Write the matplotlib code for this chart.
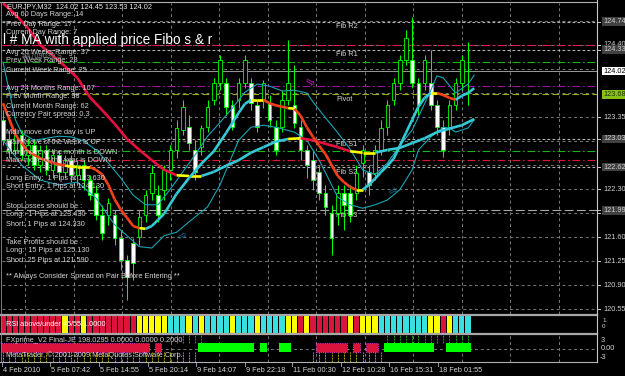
import matplotlib.pyplot as plt
from matplotlib.patches import Rectangle
from matplotlib.transforms import blended_transform_factory

# ---------------- data (EURJPY, M32) ----------------
opens = [123.31, 123.01, 122.87, 123.09, 122.80, 122.94, 122.65, 122.87, 122.58, 122.80,
         122.55, 122.72, 122.50, 122.65, 122.43, 122.24, 121.92, 121.92, 121.92, 121.59,
         121.27, 121.51, 121.60, 121.92, 122.24, 122.21, 122.29, 122.58, 122.87, 123.16,
         123.20, 122.87, 122.91, 123.20, 123.60, 123.85, 123.85, 123.52, 123.60, 123.85,
         123.85, 123.52, 123.60, 123.55, 123.20, 123.20, 123.60, 123.52, 123.20, 122.87,
         122.72, 122.55, 122.24, 121.95, 121.95, 122.24, 122.24, 122.24, 122.68, 122.55,
         122.53, 122.87, 123.20, 123.60, 123.85, 124.18, 124.18, 123.85, 123.85, 123.85,
         123.52, 123.20, 123.20, 123.52, 123.85, 124.02]
highs = [123.45, 123.16, 123.19, 123.16, 123.04, 123.01, 122.94, 122.94, 122.87, 122.87,
         122.80, 122.80, 122.72, 122.72, 122.50, 122.36, 122.07, 122.17, 122.00, 121.70,
         121.34, 121.59, 122.00, 122.29, 122.65, 122.36, 122.65, 122.94, 123.31, 123.60,
         123.38, 123.01, 123.23, 123.60, 123.92, 124.25, 123.92, 123.60, 123.92, 124.25,
         123.92, 123.60, 123.89, 123.67, 123.31, 123.74, 124.47, 124.11, 123.31, 122.94,
         122.87, 122.65, 122.36, 122.07, 122.36, 122.36, 122.36, 122.65, 122.94, 122.65,
         122.94, 123.31, 123.60, 123.92, 124.25, 124.62, 124.81, 123.92, 124.25, 124.33,
         123.60, 123.31, 123.60, 123.92, 124.25, 124.45]
lows = [122.94, 122.75, 122.80, 122.72, 122.65, 122.58, 122.55, 122.50, 122.46, 122.43,
        122.46, 122.40, 122.36, 122.29, 122.14, 121.85, 121.56, 121.78, 121.48, 121.12,
        120.68, 120.97, 121.48, 121.82, 122.14, 121.82, 122.14, 122.43, 122.75, 123.09,
        122.87, 122.43, 122.80, 123.13, 123.52, 123.74, 123.38, 123.16, 123.48, 123.77,
        123.45, 123.13, 123.48, 123.20, 122.80, 123.13, 123.52, 123.19, 122.72, 122.46,
        122.29, 122.14, 121.92, 121.34, 121.78, 121.70, 121.82, 122.14, 122.48, 122.21,
        122.43, 122.80, 123.09, 123.52, 123.74, 124.11, 123.77, 123.38, 123.74, 123.45,
        123.09, 122.77, 123.09, 123.45, 123.74, 123.53]
closes = [123.01, 122.87, 123.09, 122.80, 122.94, 122.65, 122.87, 122.58, 122.80, 122.55,
          122.72, 122.50, 122.65, 122.43, 122.21, 121.92, 121.66, 122.10, 121.59, 121.27,
          121.02, 121.22, 121.89, 122.21, 122.53, 121.92, 122.58, 122.87, 123.19, 123.50,
          122.97, 122.55, 123.19, 123.50, 123.85, 124.18, 123.50, 123.20, 123.85, 124.18,
          123.55, 123.20, 123.85, 123.31, 122.87, 123.60, 123.85, 123.26, 122.87, 122.65,
          122.43, 122.24, 122.04, 121.59, 122.24, 122.07, 121.92, 122.53, 122.87, 122.36,
          122.87, 123.19, 123.52, 123.85, 124.18, 124.50, 123.85, 123.52, 124.18, 123.52,
          123.20, 122.87, 123.52, 123.85, 124.18, 124.02]

slow_bar = [0, 2, 4, 6, 8, 10, 12, 14, 16, 18, 20, 22, 24, 26, 28, 30, 32, 34, 36, 38,
            40, 42, 44, 46, 48, 50, 52, 54, 56, 58, 60, 62, 64, 66, 68, 70, 72, 74, 76]
slow_ma = [125.01, 124.84, 124.65, 124.40, 124.25, 124.09, 123.92, 123.64, 123.45, 123.25,
           123.03, 122.87, 122.72, 122.58, 122.50, 122.49, 122.49, 122.55, 122.64, 122.72,
           122.83, 122.91, 122.99, 123.03, 123.04, 123.01, 122.96, 122.91, 122.85, 122.83,
           122.83, 122.87, 122.90, 122.97, 123.04, 123.13, 123.18, 123.23, 123.32]

fast_bar = [0, 2, 4, 6, 8, 10, 12, 14, 15, 16, 17, 18, 19, 20, 21, 22, 23, 24, 25, 26,
            28, 30, 32, 34, 36, 38, 39, 40, 41, 42, 43, 44, 45, 46, 47, 48, 49, 50, 51, 52,
            53, 54, 55, 56, 57, 58, 59, 60, 61, 62, 63, 64, 65, 66, 67, 68, 69, 70, 71, 72,
            73, 74, 75, 76]
fast_ma = [123.55, 123.09, 122.85, 122.75, 122.68, 122.64, 122.62, 122.62, 122.58, 122.51,
           122.36, 122.15, 122.00, 121.88, 121.76, 121.73, 121.72, 121.76, 121.85, 121.94,
           122.23, 122.46, 122.67, 122.85, 123.12, 123.41, 123.54, 123.60, 123.60, 123.60,
           123.55, 123.52, 123.50, 123.48, 123.47, 123.37, 123.20, 123.06, 122.93, 122.81,
           122.65, 122.49, 122.40, 122.33, 122.29, 122.29, 122.36, 122.45, 122.55, 122.64,
           122.74, 122.93, 123.12, 123.31, 123.50, 123.63, 123.70, 123.70, 123.67, 123.63,
           123.60, 123.66, 123.70, 123.77]

band_up_bar = [0, 2, 3, 5, 7, 9, 11, 13, 15, 17, 19, 21, 23, 25, 27, 29, 31, 33, 35, 37,
               39, 41, 43, 45, 47, 49, 50, 52, 54, 56, 58, 60, 62, 64, 66, 67, 69, 70, 71, 73,
               75, 76]
band_up = [124.15, 123.31, 123.12, 123.01, 123.04, 123.07, 123.06, 123.00, 122.87, 122.68,
           122.46, 122.21, 122.07, 122.07, 122.30, 122.55, 122.80, 123.07, 123.27, 123.48,
           123.71, 123.83, 123.80, 123.73, 123.74, 123.70, 123.57, 123.34, 123.12, 122.88,
           122.58, 122.51, 122.68, 122.93, 123.16, 123.35, 123.74, 123.95, 123.92, 123.70,
           123.83, 123.96]
band_dn_bar = [0, 3, 6, 9, 12, 15, 18, 22, 24, 26, 28, 30, 33, 35, 38, 40, 42, 44, 47, 49,
               51, 54, 56, 58, 60, 62, 64, 66, 67, 69, 71, 72, 73, 75, 76]
band_dn = [123.01, 122.65, 122.43, 122.36, 122.40, 122.17, 121.78, 121.46, 121.44, 121.62,
           121.67, 121.82, 122.04, 122.36, 123.01, 123.20, 123.23, 123.20, 123.13, 123.01,
           122.72, 122.18, 122.07, 122.02, 122.07, 122.14, 122.29, 122.58, 122.87, 123.06,
           123.20, 123.19, 123.13, 123.19, 123.31]

# horizontal levels: Fibo pivots and the signal lines
fib_names = ["Fib R2", "Fib R1", "Pivot", "Fib S1", "Fib S2", "Fib S3"]
fib_levels = [124.74, 124.33, 123.68, 123.03, 122.62, 121.99]
signal_levels = [124.40, 124.15, 123.80, 122.86, 122.72]
signal_colors = ['#e8145a', '#18b418', '#a010a0', '#18b418', '#e01434']
bid = 124.02

grid_prices = [120.55, 120.90, 121.25, 121.60, 121.95, 122.30, 122.65, 123.00,
               123.35, 123.70, 124.05, 124.40, 124.75]
axis_labels = ["124.40", "124.74", "124.33", "123.35", "123.03", "122.62", "122.30",
               "121.95", "121.99", "121.60", "121.25", "120.90", "120.55"]

rsi_state = ("rrrrrrrrrryrryrrrrrrrryyyyycccycycccc" + "ycccyccccyyryrrrrrryryyyccccccccyyryccc")
fx_state = ("rrrrrrrrrrrrrrrrrrrrrrrrnrnnnnnnggggggggg" + "ngnnggnnnnrrrrrnrnrrnggggggggnngggg")
hist_dn = list(range(0, 32)) + list(range(50, 62))
hist_up = list(range(28, 33)) + list(range(62, 76))

date_labels = ["4 Feb 2010", "5 Feb 07:42", "5 Feb 14:55", "5 Feb 20:14", "9 Feb 14:07",
               "9 Feb 22:18", "11 Feb 00:30", "12 Feb 10:28", "16 Feb 15:31", "18 Feb 01:55"]

info_lines = ["Avg 60 Days Range: 14", "Prev Day Range: 17", "Current Day Range: 7",
              "Avg 26 Weeks Range: 37", "Prev Week Range: 28", "Current Week Range: 25",
              "Avg 24 Months Range: 107", "Prev Month Range: 98", "Current Month Range: 62",
              "Currency Pair spread: 0.3",
              "Main move of the day is UP", "Main move of the week is UP",
              "Main move of the month is DOWN", "Main move of the year is DOWN",
              "Long Entry:  1 Pips at 123.630", "Short Entry: 1 Pips at 124.130",
              "StopLosses should be :", "Long:  1 Pips at 123.430", "Short: 1 Pips at 124.330",
              "Take Profits should be :", "Long:  15 Pips at 125.130", "Short: 25 Pips at 121.590",
              "** Always Consider Spread on Pair Before Entering **"]
info_y = [15, 24, 33, 52, 61, 70, 88, 97, 106, 115, 133, 142, 152, 161,
          178, 187, 206, 215, 224, 242, 251, 260, 277]

# ---------------- layout ----------------
W, H = 625, 376
BAR0, STEP = 3.0, 6.2          # pixel of bar 0 and pixels per bar
RIGHT = 597
FONT = 'Liberation Sans'
TXT = '#d4d4d4'
GRID = '#7a7a7a'
LIME = '#00ff00'
CYAN_THICK = '#36c8d4'
CYAN_THIN = '#1aa4b4'

fig = plt.figure(figsize=(W / 100, H / 100), dpi=100, facecolor='black')


def panel(y0, y1):
    ax = fig.add_axes([2 / W, 1 - y1 / H, (RIGHT - 2) / W, (y1 - y0) / H])
    ax.set_axis_off()
    ax.set_xlim((2 - BAR0) / STEP, (RIGHT - BAR0) / STEP)
    return ax


def px_to_bar(x):
    return (x - BAR0) / STEP


vgrid = [px_to_bar(25 + 48.5 * k) for k in range(12)]

# ---- main price panel ----
ax = panel(3, 314)
ax.set_ylim(120.478, 125.012)
for p in grid_prices:
    ax.axhline(p, color=GRID, lw=0.7, ls=(0, (3, 3)), zorder=1)
for v in vgrid:
    ax.axvline(v, color=GRID, lw=0.7, ls=(0, (3, 3)), zorder=1)

fib_styles = [(0, (2.5, 2)), (0, (2.5, 2)), (0, (6, 3)), (0, (2.5, 2)), (0, (2.5, 2)), (0, (8, 3))]
fib_colors = ['#b4b4b4', '#b4b4b4', '#9cac14', '#b4b4b4', '#b4b4b4', '#a8a8a8']
for p, c, s in zip(fib_levels, fib_colors, fib_styles):
    ax.axhline(p, color=c, lw=0.8, ls=s, zorder=2)
for p, c in zip(signal_levels, signal_colors):
    ax.axhline(p, color=c, lw=0.8, ls=(0, (7, 2.5, 1.5, 2.5)), zorder=2)
ax.axhline(bid, color='#9a9a9a', lw=0.7, zorder=2)

# candles
for i, (o, h, l, c) in enumerate(zip(opens, highs, lows, closes)):
    ax.vlines(i, l, h, color=LIME, lw=0.75, zorder=3)
    if abs(c - o) < 0.005:
        ax.hlines(o, i - 0.3, i + 0.3, color=LIME, lw=0.75, zorder=4)
        continue
    face = 'white' if c < o else 'black'
    ax.add_patch(Rectangle((i - 0.29, min(o, c)), 0.58, abs(c - o), facecolor=face,
                           edgecolor=LIME, lw=0.6, zorder=4))

# thin cyan envelope lines
ax.plot(band_up_bar, band_up, color=CYAN_THIN, lw=0.8, zorder=5)
ax.plot(band_dn_bar, band_dn, color=CYAN_THIN, lw=0.8, zorder=5)


def colour_ma(xs, vs, fall, lw):
    for k in range(len(xs) - 1):
        slope = (vs[k + 1] - vs[k]) / (xs[k + 1] - xs[k])
        if slope > 0.012:
            col = CYAN_THICK
        elif slope < -0.012:
            col = fall
        else:
            col = '#ffff00'
        ax.plot(xs[k:k + 2], vs[k:k + 2], color=col, lw=lw, zorder=6,
                solid_capstyle='butt')


colour_ma(slow_bar, slow_ma, '#e8103c', 1.9)
colour_ma(fast_bar, fast_ma, '#f2401c', 1.9)

# ---- RSI colour panel ----
rsi_colors = {'r': '#dc143c', 'y': '#ffff00', 'c': '#38e0e0'}
ax_rsi = panel(316, 333)
ax_rsi.set_ylim(0, 1)
for i, s in enumerate(rsi_state):
    ax_rsi.bar(i, 1, width=0.84, bottom=0, color=rsi_colors[s], lw=0)

# ---- FXprime panel ----
ax_fx = panel(335, 362)
ax_fx.set_ylim(-4.33, 4.67)
for v in vgrid:
    ax_fx.axvline(v, color=GRID, lw=0.7, ls=(0, (3, 3)), zorder=1)
ax_fx.axhline(0, color=GRID, lw=0.7, ls=(0, (3, 3)), zorder=1)
for i in hist_dn:
    ax_fx.vlines(i, -4.4, -1, color='#b0a800', lw=0.7, ls=(0, (2, 1)), zorder=2)
for i in hist_up:
    ax_fx.vlines(i, 2, 4.7, color='#10a810', lw=0.7, ls=(0, (2, 1)), zorder=2)
k = 0
while k < len(fx_state):
    s = fx_state[k]
    j = k
    while j < len(fx_state) and fx_state[j] == s:
        j += 1
    if s == 'r':
        ax_fx.add_patch(Rectangle((k - 0.5, -1), j - k, 3, facecolor='#dc143c',
                                  edgecolor='#ff40ff', lw=0.6, ls=':', zorder=3))
    elif s == 'g':
        ax_fx.add_patch(Rectangle((k - 0.5, -1), j - k, 3, facecolor='#00ff00',
                                  edgecolor='none', zorder=3))
    k = j

# ---- overlay: frames, texts, axis labels ----
ov = fig.add_axes([0, 0, 1, 1])
ov.set_xlim(0, W)
ov.set_ylim(H, 0)
ov.set_axis_off()
ov.set_zorder(10)
ov.patch.set_alpha(0)

for y in (2, 362):
    ov.plot([0, RIGHT], [y, y], color='#b0b0b0', lw=0.8)
for y in (314.8, 333.8):
    ov.plot([0, RIGHT], [y, y], color='#a8a8a8', lw=1.6)
ov.plot([RIGHT, RIGHT], [0, 362], color='#c8c8c8', lw=0.8)
ov.plot([1, 1], [2, 362], color='#909090', lw=0.6)

sm = dict(fontsize=5.3, family=FONT, va='center', ha='left')
ov.text(7, 7, "EURJPY,M32  124.02 124.45 123.53 124.02", color='#e8e8e8', **sm)
for t, y in zip(info_lines, info_y):
    ov.text(6, y, t, color=TXT, **sm)
ov.text(22, 57, "#4709039 S", color='#8a8a8a', **sm)
ov.text(3, 40, "l # MA with applied price Fibo s & r", color='white', fontsize=9.8,
        family=FONT, va='center', ha='left')

fib_tr = blended_transform_factory(ov.transData, ax.transData)
for name, p in zip(fib_names, fib_levels):
    ax.text(336, p - 0.075, name, color=TXT, transform=fib_tr, **sm)

# wingdings-like arrows
ax.text(310, 123.86, "⇨", color='#e020e0', fontsize=8, rotation=-30, ha='center',
        va='center', transform=fib_tr, zorder=7)
ax.text(183, 121.62, "⇨", color='#1c6c9c', fontsize=8, rotation=30, ha='center',
        va='center', transform=fib_tr, zorder=7)
ax.text(394, 122.28, "⇨", color='#1c6c9c', fontsize=8, rotation=30, ha='center',
        va='center', transform=fib_tr, zorder=7)

# right price scale
lab_tr = blended_transform_factory(fig.transFigure, ax.transData)
for s in axis_labels:
    p = float(s)
    ax.plot([RIGHT / W, (RIGHT + 3) / W], [p, p], color='#c8c8c8', lw=0.7,
            transform=lab_tr, clip_on=False)
    box = None
    if p in fib_levels and p != 123.68:
        box = dict(boxstyle='square,pad=0.12', fc='#404040', ec='none')
    ax.text(603 / W, p, s, color='#d0d0d0', transform=lab_tr, clip_on=False, bbox=box,
            zorder=8, **sm)
ax.text(603 / W, bid, "124.02", color='black', transform=lab_tr, clip_on=False,
        bbox=dict(boxstyle='square,pad=0.12', fc='white', ec='none'), zorder=9, **sm)
ax.text(603 / W, 123.68, "123.68", color='#203000', transform=lab_tr, clip_on=False,
        bbox=dict(boxstyle='square,pad=0.12', fc='#88c018', ec='none'), zorder=9, **sm)

# indicator captions
ov.text(6, 325, "RSI above/under 45/55 1.0000", color='white', **sm)
ov.text(6, 341, "FXprime_V2 Final-JE 198.0295 0.0000 0.0000 0.2000", color=TXT, **sm)
ov.text(6, 355, "MetaTrader, © 2001-2009 MetaQuotes Software Corp.", color=TXT, **sm)
ov.text(601, 341, "3", color=TXT, **sm)
ov.text(601, 349, "0.00", color=TXT, **sm)
ov.text(600, 357.5, "-3", color=TXT, **sm)
ov.text(602, 321, "1", color=TXT, fontsize=4.5, family=FONT, va='center')
ov.text(602, 327, "0", color=TXT, fontsize=4.5, family=FONT, va='center')

# time axis
date_px = [2, 50, 99, 148, 196, 245, 292, 341, 389, 438]
for t, x in zip(date_labels, date_px):
    ov.plot([x, x], [362, 366], color='#b0b0b0', lw=0.6)
    ov.text(x + 1, 370, t, color=TXT, **sm)

fig.savefig('out.png', dpi=100, facecolor='black')
